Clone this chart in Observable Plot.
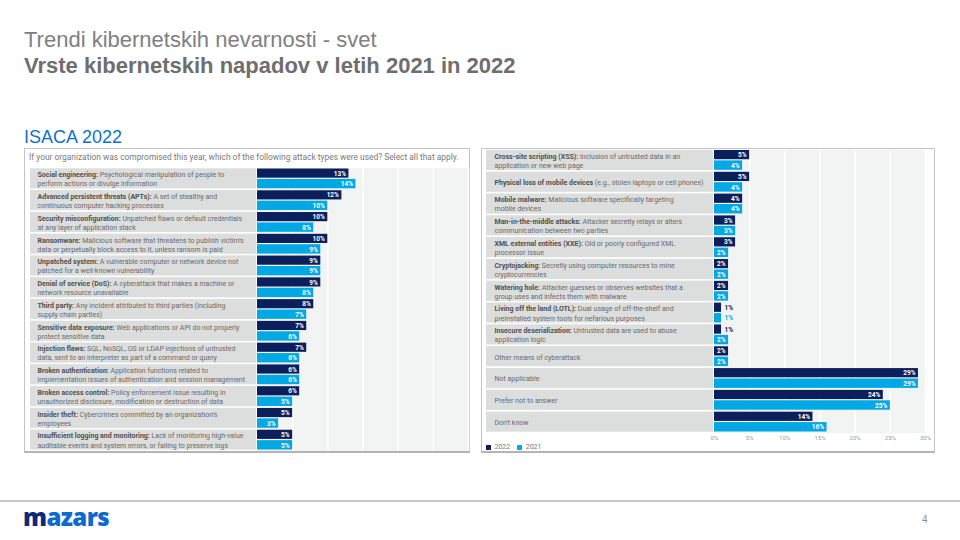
<!DOCTYPE html>
<html><head><meta charset="utf-8">
<script src="https://cdn.jsdelivr.net/npm/d3@7"></script>
<script src="https://cdn.jsdelivr.net/npm/@observablehq/plot@0.6"></script>
<style>
body{margin:0;width:960px;height:540px;position:relative;background:#fff;overflow:hidden;font-family:"Liberation Sans",Arial,sans-serif;}
.abs{position:absolute;line-height:1;white-space:nowrap;}
.panel{position:absolute;box-sizing:border-box;border:1.5px solid #c4c4c4;border-bottom:2.5px solid #b4b4b4;}
#leg *{font-family:Roboto,sans-serif !important;font-size:7px !important;color:#7a7a7a !important;}
svg{overflow:visible;display:block;}
</style></head><body>
<div class="abs" style="left:24px;top:28.5px;font-size:22px;color:#808080">Trendi kibernetskih nevarnosti - svet</div>
<div class="abs" style="left:24px;top:54.5px;font-size:22px;font-weight:bold;color:#6e6e6e">Vrste kibernetskih napadov v letih 2021 in 2022</div>
<div class="abs" style="left:24px;top:128px;font-size:18px;color:#0b72c6">ISACA 2022</div>

<div class="panel" style="left:24px;top:148px;width:446px;height:305px"></div>
<div class="panel" style="left:481px;top:148px;width:454px;height:305px"></div>
<div class="abs" id="q" style="left:29px;top:153px;font-family:Roboto,sans-serif;font-size:8.4px;color:#7a7a7a"></div>

<div class="abs" id="lLab" style="left:30px;top:166px"></div>
<div class="abs" id="lBar" style="left:257px;top:166px"></div>
<div class="abs" id="rLab" style="left:486px;top:148px"></div>
<div class="abs" id="rBar" style="left:706px;top:148px"></div>
<div class="abs" id="leg" style="left:486px;top:431px"></div>

<div class="abs" style="left:0;top:500px;width:960px;height:1.5px;background:#c8c8c8"></div>
<div class="abs" style="left:23px;top:505px;font-family:'Open Sans',sans-serif;font-weight:800;font-size:24px;letter-spacing:-0.6px"><span style="color:#0d2a7a">m</span><span style="color:#0a6ad0">azars</span></div>
<div class="abs" style="left:922px;top:515px;font-size:10px;color:#8c8c8c">4</div>

<script>
// ---------- data ----------
const question = "If your organization was compromised this year, which of the following attack types were used? Select all that apply.";
const seriesNames = ["2022", "2021"];
const xTicks = [0, 5, 10, 15, 20, 25, 30];

const leftCategories = [
  "Social engineering: Psychological manipulation of people to\nperform actions or divulge information",
  "Advanced persistent threats (APTs): A set of stealthy and\ncontinuous computer hacking processes",
  "Security misconfiguration: Unpatched flaws or default credentials\nat any layer of application stack",
  "Ransomware: Malicious software that threatens to publish victim's\ndata or perpetually block access to it, unless ransom is paid",
  "Unpatched system: A vulnerable computer or network device not\npatched for a well-known vulnerability",
  "Denial of service (DoS): A cyberattack that makes a machine or\nnetwork resource unavailable",
  "Third party: Any incident attributed to third parties (including\nsupply chain parties)",
  "Sensitive data exposure: Web applications or API do not properly\nprotect sensitive data",
  "Injection flaws: SQL, NoSQL, OS or LDAP injections of untrusted\ndata, sent to an interpreter as part of a command or query",
  "Broken authentication: Application functions related to\nimplementation issues of authentication and session management",
  "Broken access control: Policy enforcement issue resulting in\nunauthorized disclosure, modification or destruction of data",
  "Insider theft: Cybercrimes committed by an organization's\nemployees",
  "Insufficient logging and monitoring: Lack of monitoring high-value\nauditable events and system errors, or failing to preserve logs"
];
const leftBold = [
  "Social engineering:", "Advanced persistent threats (APTs):", "Security misconfiguration:",
  "Ransomware:", "Unpatched system:", "Denial of service (DoS):", "Third party:",
  "Sensitive data exposure:", "Injection flaws:", "Broken authentication:",
  "Broken access control:", "Insider theft:", "Insufficient logging and monitoring:"
];
const left2022 = [13, 12, 10, 10, 9, 9, 8, 7, 7, 6, 6, 5, 5];
const left2021 = [14, 10, 8, 9, 9, 8, 7, 6, 6, 6, 5, 3, 5];

const rightCategories = [
  "Cross-site scripting (XSS): Inclusion of untrusted data in an\napplication or new web page",
  "Physical loss of mobile devices (e.g., stolen laptops or cell phones)",
  "Mobile malware: Malicious software specifically targeting\nmobile devices",
  "Man-in-the-middle attacks: Attacker secretly relays or alters\ncommunication between two parties",
  "XML external entities (XXE): Old or poorly configured XML\nprocessor issue",
  "Cryptojacking: Secretly using computer resources to mine\ncryptocurrencies",
  "Watering hole: Attacker guesses or observes websites that a\ngroup uses and infects them with malware",
  "Living off the land (LOTL): Dual usage of off-the-shelf and\npreinstalled system tools for nefarious purposes",
  "Insecure deserialization: Untrusted data are used to abuse\napplication logic",
  "Other means of cyberattack",
  "Not applicable",
  "Prefer not to answer",
  "Don't know"
];
const rightBold = [
  "Cross-site scripting (XSS):", "Physical loss of mobile devices", "Mobile malware:",
  "Man-in-the-middle attacks:", "XML external entities (XXE):", "Cryptojacking:",
  "Watering hole:", "Living off the land (LOTL):", "Insecure deserialization:",
  "", "", "", ""
];
const right2022 = [5, 5, 4, 3, 3, 2, 2, 1, 1, 2, 29, 24, 14];
const right2021 = [4, 4, 4, 3, 2, 2, 2, 1, 2, 2, 29, 25, 16];

// ---------- styling ----------
const DARK = "#0b1f5c";
const LIGHT = "#00a8e4";
const NS = "http://www.w3.org/2000/svg";

document.getElementById("q").textContent = question;

function labelPlot(cats, bolds, w, h, mt, mb, dx) {
  const svg = Plot.plot({
    width: w, height: h, marginTop: mt, marginBottom: mb, marginLeft: 0, marginRight: 0,
    x: {domain: [0, 1], axis: null},
    y: {domain: cats, axis: null, padding: 0, round: false},
    style: {background: "transparent", fontFamily: "Roboto, sans-serif"},
    marks: [
      Plot.barX(cats, {x1: 0, x2: 1, y: d => d, fill: "#dcdddd", insetTop: 0.8, insetBottom: 0.8}),
      Plot.text(cats, {y: d => d, frameAnchor: "left", dx, text: d => d, textAnchor: "start",
        fill: "#6a6a6a", fontSize: 7, lineHeight: 1.3})
    ]
  });
  svg.querySelectorAll("text").forEach(t => {
    const first = t.querySelector("tspan") || t;
    const s = first.textContent;
    const b = bolds.find(b => b && s.startsWith(b));
    if (!b) return;
    first.textContent = "";
    const t1 = document.createElementNS(NS, "tspan");
    t1.setAttribute("font-weight", "bold");
    t1.setAttribute("fill", "#505050");
    t1.textContent = b;
    const t2 = document.createElementNS(NS, "tspan");
    t2.textContent = s.slice(b.length);
    first.append(t1, t2);
  });
  return svg;
}

function valueLabels(rows, key, dy, color) {
  return [
    Plot.text(rows, {filter: d => d[key] > 1, x: key, y: "cat", dy, dx: -3, textAnchor: "end",
      text: d => d[key] + "%", fill: "white", fontSize: 6.5, fontWeight: "bold"}),
    Plot.text(rows, {filter: d => d[key] <= 1, x: key, y: "cat", dy, dx: 3, textAnchor: "start",
      text: d => d[key] + "%", fill: color, fontSize: 6.5, fontWeight: "bold"})
  ];
}

function barsPlot(cats, v22, v21, w, h, mt, mb, ml, mr, showAxis) {
  const rows = cats.map((c, i) => ({cat: c, a: v22[i], b: v21[i]}));
  return Plot.plot({
    width: w, height: h, marginTop: mt, marginBottom: mb, marginLeft: ml, marginRight: mr,
    x: {domain: [0, 30], axis: showAxis ? "bottom" : null, ticks: xTicks, tickFormat: d => d + "%",
        tickSize: 0, tickPadding: 3, label: null},
    y: {domain: cats, axis: null, padding: 0, round: false},
    color: {domain: seriesNames, range: [DARK, LIGHT]},
    style: {background: "transparent", fontFamily: "Roboto, sans-serif", fontSize: "6px", color: "#9a9a9a"},
    marks: [
      Plot.frame({fill: "#f2f3f3", stroke: "none"}),
      Plot.ruleX(xTicks, {stroke: "white", strokeWidth: 1.5}),
      Plot.barX(rows, {x: "a", y: "cat", fill: () => seriesNames[0], insetTop: 1, insetBottom: 11.6}),
      Plot.barX(rows, {x: "b", y: "cat", fill: () => seriesNames[1], insetTop: 11.4, insetBottom: 1}),
      ...valueLabels(rows, "a", -5.3, DARK),
      ...valueLabels(rows, "b", 5.3, LIGHT)
    ]
  });
}

// left panel: rows 167.5 -> 450.5
document.getElementById("lLab").append(labelPlot(leftCategories, leftBold, 226, 286, 1.5, 1.5, 7));
document.getElementById("lBar").append(barsPlot(leftCategories, left2022, left2021, 212, 286, 1.5, 1.5, 0, 1, false));

// right panel: rows 149 -> 432.5
document.getElementById("rLab").append(labelPlot(rightCategories, rightBold, 227, 285.5, 1, 1, 8));
const rb = barsPlot(rightCategories, right2022, right2021, 229, 296, 1, 11.5, 8, 10, true);
document.getElementById("rBar").append(rb);
document.getElementById("leg").append(rb.legend("color", {swatchSize: 5}));
</script>
</body></html>
